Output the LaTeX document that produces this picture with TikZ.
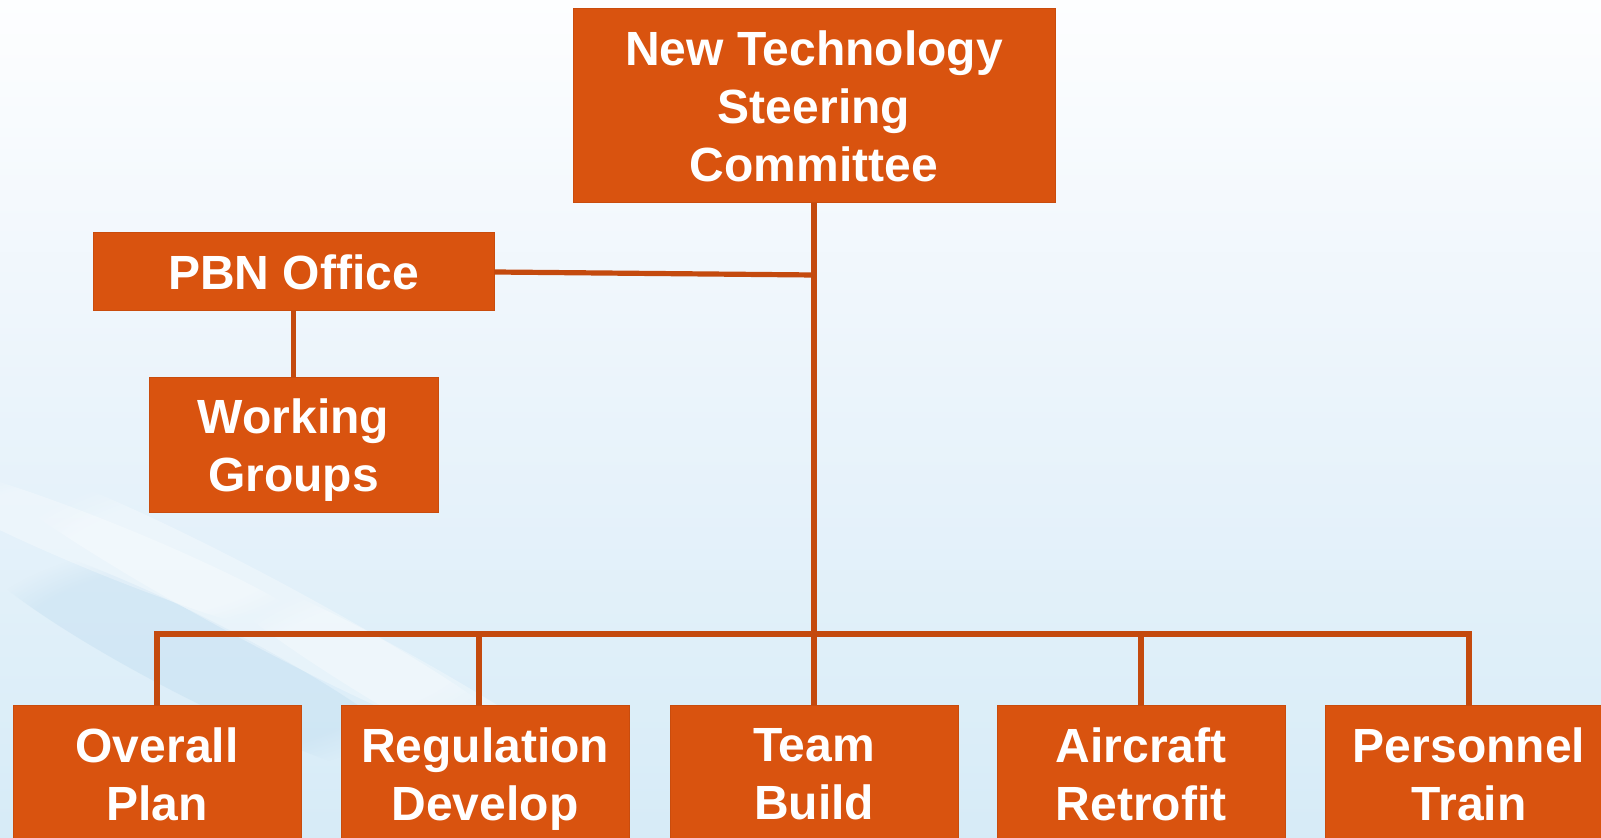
\documentclass[tikz,border=0pt]{standalone}
\usepackage{fontspec}
\setmainfont{Liberation Sans}
\usetikzlibrary{fadings}

% palette
\definecolor{boxfill}{HTML}{D9530F}
\definecolor{boxedge}{HTML}{C94C0D}
\definecolor{wire}{HTML}{C44A0E}
\definecolor{skyB}{HTML}{C4DFF1}
\definecolor{skyM}{HTML}{DAEDF8}
\definecolor{skyL}{HTML}{EBF4FB}
\definecolor{skyT}{HTML}{F8FBFE}
\definecolor{skyD}{HTML}{BBDAEE}

\pgfdeclareverticalshading{sky}{100bp}{%
  color(0bp)=(skyB); color(30bp)=(skyM); color(52bp)=(skyL);
  color(68bp)=(skyT); color(78bp)=(white); color(100bp)=(white)}

\tikzset{
  orgbox/.style={rectangle, fill=boxfill, draw=boxedge, line width=0.5pt,
    inner sep=0pt, align=center, text=white, text depth=0pt,
    font=\fontsize{24pt}{29pt}\selectfont\bfseries},
  link/.style={draw=wire, line width=2.6pt},
  wisp/.style={fill=white, fill opacity=0.3,
    path fading=circle with fuzzy edge 20 percent},
  haze/.style={fill=skyD, fill opacity=0.35,
    path fading=circle with fuzzy edge 20 percent}
}

\begin{document}
\begin{tikzpicture}[x=0.5pt, y=-0.5pt]
  % page area and sky
  \useasboundingbox (0,0) rectangle (1601,838);
  \shade[shading=sky] (0,0) rectangle (1601,838);
  \begin{scope}
    \clip (0,0) rectangle (1601,838);
    % faint cloud streaks, lower left
    \fill[haze, rotate around={-27:(200,660)}] (200,660) ellipse (260 and 40);
    \fill[wisp, rotate around={-28:(260,610)}] (260,610) ellipse (320 and 34);
    \fill[wisp, rotate around={-22:(110,550)}] (110,550) ellipse (230 and 26);
    \fill[wisp, rotate around={-30:(430,700)}] (430,700) ellipse (260 and 30);
  \end{scope}

  % committee and office
  \node[orgbox, minimum width=241pt, minimum height=97pt] (ntsc) at (814,106)
    {New Technology\\Steering\\Committee};
  \node[orgbox, minimum width=200.5pt, minimum height=39pt] (pbn) at (293.5,272)
    {PBN Office};
  \node[orgbox, minimum width=144.5pt, minimum height=67.5pt] (wg) at (293.5,445.5)
    {Working\\Groups};

  % work streams
  \node[orgbox, minimum width=144pt, minimum height=68pt] (plan) at (157,774)
    {Overall\\Plan};
  \node[orgbox, minimum width=144pt, minimum height=68pt] (reg) at (485,774)
    {Regulation\\Develop};
  \node[orgbox, minimum width=144pt, minimum height=68pt] (team) at (814,774)
    {Team\\Build};
  \node[orgbox, minimum width=144pt, minimum height=68pt] (air) at (1141,774)
    {Aircraft\\Retrofit};
  \node[orgbox, minimum width=144pt, minimum height=68pt] (pers) at (1469,774)
    {Personnel\\Train};

  \coordinate (bus) at (0,634);

  % connectors
  \draw[link] (ntsc.south) -- (team.north);
  \draw[link] (pbn.east) -- ([yshift=-1.5pt]pbn.east -| ntsc.south);
  \draw[link] (pbn.south) -- (wg.north);
  \draw[link, line join=miter] (plan.north) -- (plan.north |- bus)
    -- (pers.north |- bus) -- (pers.north);
  \draw[link] ([xshift=-3pt]reg.north) -- ([xshift=-3pt]reg.north |- bus);
  \draw[link] (air.north) -- (air.north |- bus);
\end{tikzpicture}
\end{document}
